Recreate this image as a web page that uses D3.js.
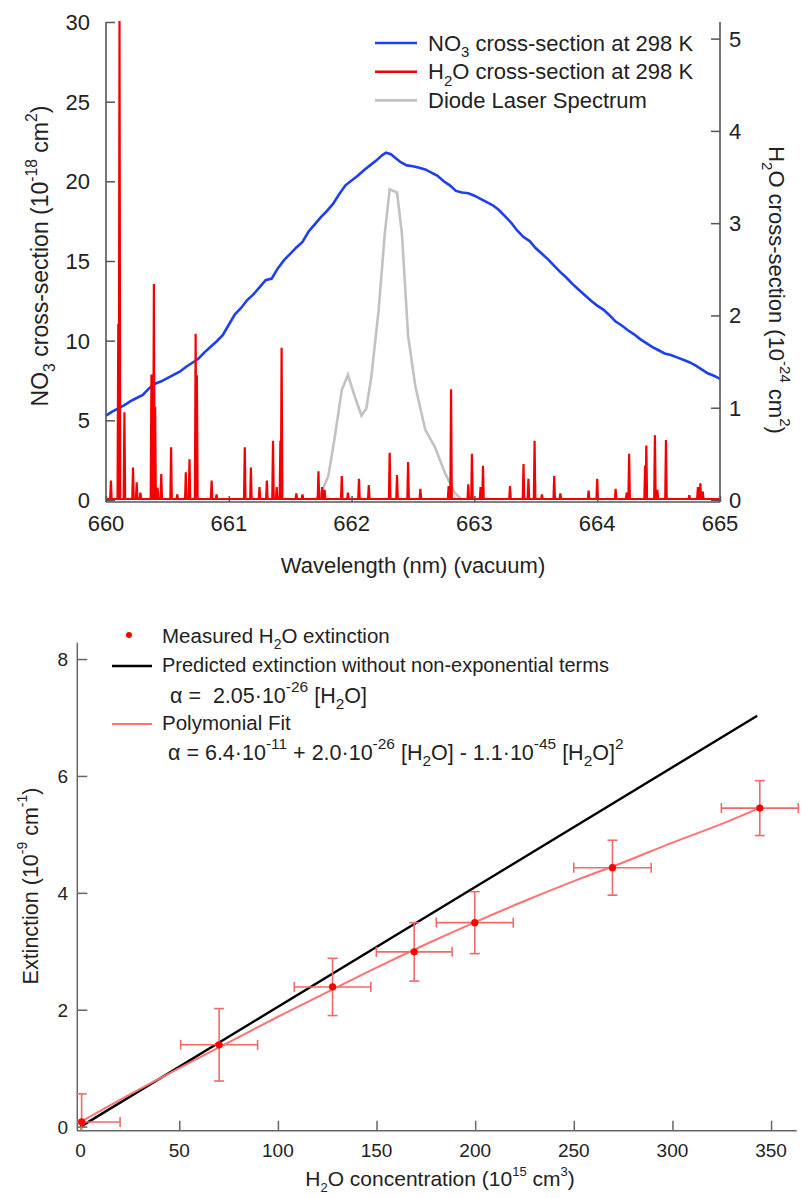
<!DOCTYPE html>
<html>
<head>
<meta charset="utf-8">
<script src="https://cdn.jsdelivr.net/npm/d3@7"></script>
<style>
  html, body { margin: 0; padding: 0; background: #fff; }
  svg text { font-family: "Liberation Sans", Arial, Helvetica, sans-serif; fill: #222; white-space: pre; }
</style>
</head>
<body>
<svg id="fig" width="806" height="1198"></svg>
<script>
// ---------- Upper panel: cross-sections vs wavelength ----------
const no3Wl = [660.00,660.05,660.10,660.15,660.20,660.25,660.30,660.35,660.40,660.45,660.50,660.55,660.60,660.65,660.70,660.75,660.80,660.85,660.90,660.95,
  661.00,661.05,661.10,661.15,661.20,661.25,661.30,661.35,661.40,661.45,661.50,661.55,661.60,661.65,661.70,661.75,661.80,661.85,661.90,661.95,
  662.00,662.05,662.10,662.15,662.20,662.25,662.28,662.32,662.36,662.40,662.45,662.50,662.55,662.60,662.65,662.70,662.75,662.80,662.85,662.90,662.95,
  663.00,663.05,663.10,663.15,663.20,663.25,663.30,663.35,663.40,663.45,663.50,663.55,663.60,663.65,663.70,663.75,663.80,663.85,663.90,663.95,
  664.00,664.05,664.10,664.15,664.20,664.25,664.30,664.35,664.40,664.45,664.50,664.55,664.60,664.65,664.70,664.75,664.80,664.85,664.90,664.95,665.00];
const no3Val = [5.3,5.55,5.75,5.95,6.2,6.4,6.6,7.0,7.3,7.45,7.65,7.85,8.05,8.35,8.6,8.85,9.25,9.6,9.95,10.35,
  11.0,11.65,12.05,12.55,12.9,13.35,13.8,13.9,14.55,15.05,15.45,15.85,16.2,16.85,17.3,17.75,18.15,18.6,19.2,19.75,
  20.05,20.35,20.7,21.0,21.3,21.65,21.8,21.7,21.45,21.2,21.0,20.95,20.85,20.75,20.55,20.35,20.0,19.75,19.4,19.3,19.25,
  19.1,18.9,18.7,18.5,18.2,17.8,17.4,16.9,16.5,16.25,15.8,15.45,15.1,14.7,14.3,13.95,13.55,13.2,12.85,12.5,
  12.2,11.95,11.6,11.2,10.95,10.65,10.4,10.1,9.85,9.6,9.4,9.2,9.1,8.95,8.8,8.65,8.45,8.2,7.95,7.8,7.6];

// H2O absorption lines: centre wavelength and peak cross-section (10^-24 cm^2)
const h2oWl = [660.04,660.10,660.11,660.15,660.22,660.25,660.28,660.37,660.39,660.40,660.42,660.45,660.53,660.58,660.65,660.68,660.73,660.74,660.86,660.90,
  661.13,661.18,661.25,661.31,661.36,661.39,661.42,661.43,661.55,661.60,661.73,661.76,661.78,661.92,661.97,662.06,662.14,662.31,662.37,662.46,662.56,
  662.79,662.81,662.95,662.98,663.05,663.07,663.29,663.40,663.44,663.49,663.55,663.65,663.70,663.93,664.00,664.15,664.24,664.26,664.39,664.40,664.47,
  664.49,664.56,664.75,664.82,664.84,664.86];
const h2oVal = [0.20,1.90,5.18,0.94,0.34,0.18,0.07,1.35,2.33,1.00,0.12,0.27,0.56,0.05,0.29,0.43,1.79,1.34,0.20,0.05,
  0.56,0.34,0.13,0.20,0.63,0.13,0.63,1.64,0.06,0.05,0.30,0.13,0.10,0.25,0.07,0.22,0.15,0.50,0.26,0.40,0.11,
  0.14,1.19,0.16,0.49,0.13,0.36,0.14,0.38,0.22,0.63,0.05,0.25,0.06,0.09,0.22,0.11,0.07,0.49,0.36,0.58,0.69,
  0.10,0.64,0.04,0.13,0.17,0.08];

// Diode laser emission profile (plotted on the NO3 scale)
const laserWl  = [661.70,661.75,661.81,661.86,661.92,661.97,662.03,662.08,662.12,662.16,662.22,662.27,662.31,662.37,662.41,662.46,662.52,662.60,662.68,662.76,662.84,662.90];
const laserVal = [0,0.4,1.5,3.8,6.9,7.85,6.4,5.3,5.75,7.7,11.9,16.7,19.5,19.3,16.7,10.3,7.1,4.4,3.3,1.7,0.45,0];

const wlTicks = [660,661,662,663,664,665];
const no3Ticks = [0,5,10,15,20,25,30];
const h2oTicks = [0,1,2,3,4,5];

// ---------- Lower panel: extinction vs H2O concentration ----------
const concVal = [0.5, 70.2, 127.7, 169.1, 199.8, 269.6, 344.3];
const extVal  = [0.08, 1.40, 2.39, 2.99, 3.49, 4.43, 5.45];
const concErr = [19.5, 19.5, 19.4, 19.2, 19.5, 19.6, 19.5];
const extErr  = [0.48, 0.62, 0.49, 0.50, 0.53, 0.47, 0.47];

const predConc = [0, 343];
const predExt  = [0, 7.03];

const fitConc = [0, 25, 50, 75, 100, 125, 150, 175, 200, 225, 250, 275, 300, 325, 344];
const fitExt  = [0.08, 0.55, 1.0, 1.44, 1.88, 2.30, 2.72, 3.12, 3.50, 3.86, 4.20, 4.52, 4.86, 5.18, 5.45];

const concTicks = [0,50,100,150,200,250,300,350];
const extTicks = [0,2,4,6,8];

const svg = d3.select("#fig");

// rich text helper: parts = [[string, "n" | "sub" | "sup"], ...]
function rich(sel, parts, size, scriptScale = 0.68) {
  let off = 0;
  parts.forEach(([s, kind]) => {
    let target = 0, fs = size;
    if (kind === "sub") { target = 0.3 * size; fs = scriptScale * size; }
    if (kind === "sup") { target = -0.5 * size; fs = scriptScale * size; }
    sel.append("tspan").attr("dy", target - off).attr("font-size", fs).text(s);
    off = target;
  });
  return sel;
}

// ===== Upper panel =====
const boxA = { left: 106, right: 720, top: 22, bottom: 500 };
const x1 = d3.scaleLinear().domain([660, 665]).range([boxA.left, boxA.right]);
const yL = d3.scaleLinear().domain([0, 30]).range([boxA.bottom, boxA.top]);
const yR = d3.scaleLinear().domain([0, 5.18]).range([boxA.bottom, boxA.top]);

const g1 = svg.append("g");
g1.append("defs").append("clipPath").attr("id", "clipTop")
  .append("rect").attr("x", boxA.left).attr("y", boxA.top - 1)
  .attr("width", boxA.right - boxA.left).attr("height", boxA.bottom - boxA.top + 3);

const plot1 = g1.append("g").attr("clip-path", "url(#clipTop)");

const no3Data = no3Wl.map((w, i) => [w, no3Val[i]]);
const laserData = laserWl.map((w, i) => [w, laserVal[i]]);
// build each absorption line as a narrow peak rising from zero
const h2oData = [[660, 0]];
h2oWl.map((w, i) => [w, h2oVal[i]]).sort((a, b) => a[0] - b[0]).forEach(([w, v]) => {
  h2oData.push([w - 0.006, 0], [w, v], [w + 0.006, 0]);
});
h2oData.push([665, 0]);

plot1.append("path").datum(no3Data)
  .attr("fill", "none").attr("stroke", "#1d40ee").attr("stroke-width", 2.6)
  .attr("d", d3.line().x(d => x1(d[0])).y(d => yL(d[1])));
plot1.append("path").datum(laserData)
  .attr("fill", "none").attr("stroke", "#c2c2c2").attr("stroke-width", 2.6)
  .attr("d", d3.line().x(d => x1(d[0])).y(d => yL(d[1])));
plot1.append("path").datum(h2oData)
  .attr("fill", "none").attr("stroke", "#f40000").attr("stroke-width", 2.2)
  .attr("stroke-linejoin", "miter")
  .attr("d", d3.line().x(d => x1(d[0])).y(d => yR(d[1]) - 1));

// axes (ticks drawn inward)
const axisColor1 = "#555";
const axL = g1.append("g").attr("transform", `translate(${boxA.left},0)`)
  .call(d3.axisRight(yL).tickValues(no3Ticks).tickSize(9).tickFormat(""));
const axR = g1.append("g").attr("transform", `translate(${boxA.right},0)`)
  .call(d3.axisLeft(yR).tickValues(h2oTicks).tickSize(9).tickFormat(""));
const axB = g1.append("g").attr("transform", `translate(0,${boxA.bottom + 2})`)
  .call(d3.axisTop(x1).tickValues(wlTicks).tickSize(6).tickFormat(""));
[axL, axR, axB].forEach(a => {
  a.selectAll("path.domain").attr("stroke", axisColor1).attr("stroke-width", 1.6);
  a.selectAll(".tick line").attr("stroke", axisColor1).attr("stroke-width", 1.5);
});
axL.select("path.domain").attr("d", `M0,${boxA.top}V${boxA.bottom + 2}`);
axR.select("path.domain").attr("d", `M0,${boxA.top}V${boxA.bottom + 2}`);
axB.select("path.domain").attr("d", `M${boxA.left},0H${boxA.right}`);

// tick labels
g1.selectAll("text.tl").data(no3Ticks).enter().append("text")
  .attr("x", boxA.left - 16).attr("y", d => yL(d) + 8)
  .attr("text-anchor", "end").attr("font-size", 22).text(d => d);
g1.selectAll("text.tr").data(h2oTicks).enter().append("text")
  .attr("x", boxA.right + 9).attr("y", d => yR(d) + 8)
  .attr("text-anchor", "start").attr("font-size", 22).text(d => d);
g1.selectAll("text.tb").data(wlTicks).enter().append("text")
  .attr("x", d => x1(d)).attr("y", 531)
  .attr("text-anchor", "middle").attr("font-size", 22).text(d => d);

g1.append("text").attr("x", (boxA.left + boxA.right) / 2).attr("y", 573)
  .attr("text-anchor", "middle").attr("font-size", 22).text("Wavelength (nm) (vacuum)");

rich(g1.append("text").attr("transform", "translate(48,256) rotate(-90)").attr("text-anchor", "middle"),
  [["NO", "n"], ["3", "sub"], [" cross-section (10", "n"], ["-18", "sup"], [" cm", "n"], ["2", "sup"], [")", "n"]], 23);
rich(g1.append("text").attr("transform", "translate(769,290) rotate(90)").attr("text-anchor", "middle"),
  [["H", "n"], ["2", "sub"], ["O cross-section (10", "n"], ["-24", "sup"], [" cm", "n"], ["2", "sup"], [")", "n"]], 22);

// legend
const leg1 = [
  { c: "#1d40ee", parts: [["NO", "n"], ["3", "sub"], [" cross-section at 298 K", "n"]] },
  { c: "#f40000", parts: [["H", "n"], ["2", "sub"], ["O cross-section at 298 K", "n"]] },
  { c: "#c2c2c2", parts: [["Diode Laser Spectrum", "n"]] }
];
leg1.forEach((d, i) => {
  const yy = 43 + i * 28.7;
  g1.append("line").attr("x1", 375).attr("x2", 417).attr("y1", yy).attr("y2", yy)
    .attr("stroke", d.c).attr("stroke-width", 2.6);
  rich(g1.append("text").attr("x", 428).attr("y", yy + 7.5), d.parts, 22);
});

// ===== Lower panel =====
const boxB = { left: 77.3, right: 796.7, top: 642.7, bottom: 1130.7 };
const x2 = d3.scaleLinear().domain([-1.7, 363]).range([boxB.left, boxB.right]);
const y2 = d3.scaleLinear().domain([-0.07, 8.28]).range([boxB.bottom, boxB.top]);

const g2 = svg.append("g");
const axisColor2 = "#666";
const axY = g2.append("g").attr("transform", `translate(${boxB.left},0)`)
  .call(d3.axisRight(y2).tickValues(extTicks).tickSize(10).tickFormat(""));
const axX = g2.append("g").attr("transform", `translate(0,${boxB.bottom})`)
  .call(d3.axisTop(x2).tickValues(concTicks).tickSize(10).tickFormat(""));
[axY, axX].forEach(a => {
  a.selectAll("path.domain").attr("stroke", axisColor2).attr("stroke-width", 1.5);
  a.selectAll(".tick line").attr("stroke", axisColor2).attr("stroke-width", 1.5);
});
axY.select("path.domain").attr("d", `M0,${boxB.top}V${boxB.bottom}`);
axX.select("path.domain").attr("d", `M${boxB.left},0H${boxB.right}`);

g2.selectAll("text.yl").data(extTicks).enter().append("text")
  .attr("x", 68).attr("y", d => y2(d) + 7)
  .attr("text-anchor", "end").attr("font-size", 19).text(d => d);
g2.selectAll("text.xl").data(concTicks).enter().append("text")
  .attr("x", d => x2(d)).attr("y", 1157)
  .attr("text-anchor", "middle").attr("font-size", 19).text(d => d);

rich(g2.append("text").attr("x", 440).attr("y", 1186).attr("text-anchor", "middle"),
  [["H", "n"], ["2", "sub"], ["O concentration (10", "n"], ["15", "sup"], [" cm", "n"], ["3", "sup"], [")", "n"]], 21, 0.62);
rich(g2.append("text").attr("transform", "translate(38,886) rotate(-90)").attr("text-anchor", "middle"),
  [["Extinction (10", "n"], ["-9", "sup"], [" cm", "n"], ["-1", "sup"], [")", "n"]], 21.5, 0.65);

// predicted line and polynomial fit
g2.append("path").datum(predConc.map((c, i) => [c, predExt[i]]))
  .attr("fill", "none").attr("stroke", "#000").attr("stroke-width", 2.4)
  .attr("d", d3.line().x(d => x2(d[0])).y(d => y2(d[1])));
g2.append("path").datum(fitConc.map((c, i) => [c, fitExt[i]]))
  .attr("fill", "none").attr("stroke", "#ff7373").attr("stroke-width", 2)
  .attr("d", d3.line().curve(d3.curveMonotoneX).x(d => x2(d[0])).y(d => y2(d[1])));

// error bars
const errColor = "#f06a6a";
const pts = concVal.map((c, i) => ({ c, e: extVal[i], dc: concErr[i], de: extErr[i] }));
const eb = g2.append("g").attr("stroke", errColor).attr("stroke-width", 1.6).attr("fill", "none");
pts.forEach(p => {
  const xa = Math.max(x2(p.c - p.dc), boxB.left), xb = x2(p.c + p.dc);
  const ya = y2(p.e + p.de), yb = Math.min(y2(p.e - p.de), boxB.bottom);
  eb.append("line").attr("x1", xa).attr("x2", xb).attr("y1", y2(p.e)).attr("y2", y2(p.e));
  eb.append("line").attr("x1", x2(p.c)).attr("x2", x2(p.c)).attr("y1", ya).attr("y2", yb);
  if (x2(p.c - p.dc) > boxB.left)
    eb.append("line").attr("x1", xa).attr("x2", xa).attr("y1", y2(p.e) - 5).attr("y2", y2(p.e) + 5);
  eb.append("line").attr("x1", xb).attr("x2", xb).attr("y1", y2(p.e) - 5).attr("y2", y2(p.e) + 5);
  eb.append("line").attr("x1", x2(p.c) - 5).attr("x2", x2(p.c) + 5).attr("y1", ya).attr("y2", ya);
  if (y2(p.e - p.de) < boxB.bottom)
    eb.append("line").attr("x1", x2(p.c) - 5).attr("x2", x2(p.c) + 5).attr("y1", yb).attr("y2", yb);
});
g2.selectAll("circle.pt").data(pts).enter().append("circle")
  .attr("cx", d => x2(d.c)).attr("cy", d => y2(d.e)).attr("r", 3.6).attr("fill", "#f00");

// legend
g2.append("circle").attr("cx", 129).attr("cy", 635).attr("r", 3).attr("fill", "#f00");
rich(g2.append("text").attr("x", 162).attr("y", 643),
  [["Measured H", "n"], ["2", "sub"], ["O extinction", "n"]], 20.5);
g2.append("line").attr("x1", 112).attr("x2", 152).attr("y1", 666).attr("y2", 666)
  .attr("stroke", "#000").attr("stroke-width", 2.4);
rich(g2.append("text").attr("x", 162).attr("y", 672),
  [["Predicted extinction without non-exponential terms", "n"]], 20);
rich(g2.append("text").attr("x", 170).attr("y", 703),
  [["\u03b1 =  2.05\u00b710", "n"], ["-26", "sup"], [" [H", "n"], ["2", "sub"], ["O]", "n"]], 21.5, 0.72);
g2.append("line").attr("x1", 112).attr("x2", 152).attr("y1", 724).attr("y2", 724)
  .attr("stroke", "#ff7373").attr("stroke-width", 2);
rich(g2.append("text").attr("x", 162).attr("y", 730), [["Polymonial Fit", "n"]], 20.5);
rich(g2.append("text").attr("x", 168).attr("y", 760),
  [["\u03b1 = 6.4\u00b710", "n"], ["-11", "sup"], [" + 2.0\u00b710", "n"], ["-26", "sup"], [" [H", "n"], ["2", "sub"],
   ["O] - 1.1\u00b710", "n"], ["-45", "sup"], [" [H", "n"], ["2", "sub"], ["O]", "n"], ["2", "sup"]], 21.5, 0.72);
</script>
</body>
</html>
